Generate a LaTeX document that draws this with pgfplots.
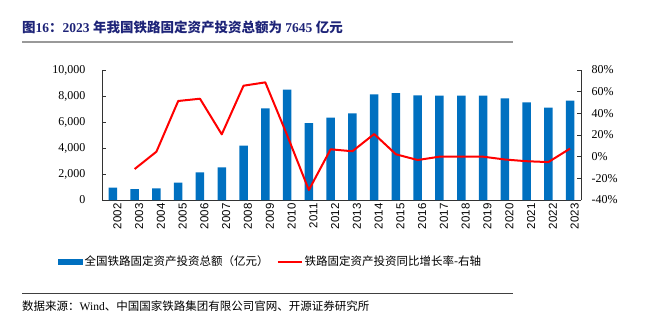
\documentclass[border=0pt]{standalone}
\usepackage{pgfplots}
\pgfplotsset{compat=1.18}
\usepackage{fontspec}
\setmainfont{Liberation Serif}
\setsansfont{Liberation Sans}
\newfontfamily\cjk{Noto Sans CJK SC}
\definecolor{barblue}{RGB}{0,112,192}
\definecolor{titlenavy}{RGB}{30,36,120}
\begin{document}
\begin{tikzpicture}
\useasboundingbox (0,0) rectangle (654bp,-323bp);
% title
\node[anchor=base west, inner sep=0pt, text=titlenavy] at (22bp,-32.5bp)
 {\fontsize{13.5bp}{15bp}\selectfont\bfseries{\cjk 图}16{\cjk ：}2023 {\cjk 年我国铁路固定资产投资总额为} 7645 {\cjk 亿元}};
\draw[color=gray!80, line width=2bp] (22bp,-41.7bp) -- (513bp,-41.7bp);
\draw[color=black!75, line width=0.8bp] (22bp,-293.3bp) -- (513bp,-293.3bp);
\node[anchor=base west, inner sep=0pt] at (22bp,-310.5bp)
 {\fontsize{11.5bp}{14bp}\selectfont{\cjk 数据来源：}Wind{\cjk 、中国国家铁路集团有限公司官网、开源证券研究所}};

\begin{axis}[
  at={(102bp,-200bp)}, anchor=south west,
  scale only axis, width=479bp, height=130bp,
  xmin=-0.5, xmax=21.5, ymin=0, ymax=10000,
  axis y line*=left, axis x line*=bottom,
  axis line style={black!80, line width=0.7bp},
  tick align=inside, major tick length=4bp,
  tick style={black!80, line width=0.7bp},
  xtick={0,...,21},
  xticklabels={2002,2003,2004,2005,2006,2007,2008,2009,2010,2011,2012,2013,2014,2015,2016,2017,2018,2019,2020,2021,2022,2023},
  x tick style={draw=none},
  minor xtick={-0.5,0.5,...,21.5},
  minor tick length=4bp,
  minor x tick style={black!80, line width=0.7bp},
  x tick label style={rotate=90, anchor=east, yshift=-4.5bp, font=\sffamily\fontsize{11.5bp}{13bp}\selectfont},
  ytick={0,2000,...,10000},
  scaled y ticks=false,
  /pgf/number format/.cd, 1000 sep={,}, assume math mode=true, /pgfplots/.cd,
  y tick label style={xshift=-13bp, font=\fontsize{12bp}{14bp}\selectfont},
]
\addplot[ybar, bar width=8.5bp, bar shift=0pt, fill=barblue, draw=none] coordinates {
(0,946) (1,846) (2,900) (3,1333) (4,2130) (5,2515) (6,4180) (7,7050) (8,8490) (9,5920) (10,6330)
(11,6670) (12,8130) (13,8230) (14,8050) (15,8020) (16,8030) (17,8030) (18,7820) (19,7510) (20,7100) (21,7645)};
\end{axis}

\begin{axis}[
  at={(102bp,-200bp)}, anchor=south west,
  scale only axis, width=479bp, height=130bp,
  xmin=-0.5, xmax=21.5, ymin=-40, ymax=80,
  axis y line*=right, axis x line=none,
  axis line style={black!80, line width=0.7bp},
  tick align=inside, major tick length=4bp,
  tick style={black!80, line width=0.7bp},
  ytick={-40,-20,...,80},
  yticklabel={\pgfmathprintnumber{\tick}\%},
  /pgf/number format/assume math mode=true,
  y tick label style={xshift=7bp, font=\fontsize{12bp}{14bp}\selectfont},
  legend columns=2,
  legend style={at={(-0.092,-0.475)}, anchor=west, draw=none, fill=none, inner sep=0pt,
    font=\cjk\fontsize{11.5bp}{13bp}\selectfont,
    nodes={inner sep=2bp},
    /tikz/every even column/.append style={column sep=6bp}},
]
\addlegendimage{legend image code/.code={\fill[barblue] (0bp,-2.7bp) rectangle (24bp,2.7bp);}}
\addlegendentry{全国铁路固定资产投资总额（亿元）}
\addplot[red, line width=2bp, line join=round, legend image code/.code={\draw[red, line width=2bp] (0bp,0bp) -- (24bp,0bp);}] coordinates {
(1,-11.4) (2,4.6) (3,51.4) (4,53.5) (5,20.6) (6,65.5) (7,68.6) (8,20.0) (9,-30.8) (10,6.8)
(11,5.0) (12,20.9) (13,2.2) (14,-3.1) (15,0.0) (16,0.0) (17,0.0) (18,-2.6) (19,-4.2) (20,-5.0) (21,7.5)};
\addlegendentry{铁路固定资产投资同比增长率-右轴}
\end{axis}
\end{tikzpicture}
\end{document}
